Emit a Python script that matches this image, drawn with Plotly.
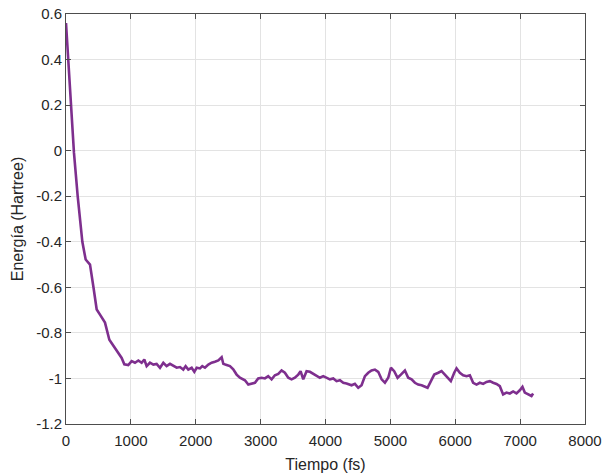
import plotly.graph_objects as go

t_fs = [0, 35, 88, 123, 180, 252, 303, 370, 421, 473, 524, 601, 668, 755, 858, 899,
        960, 1012, 1063, 1115, 1166, 1207, 1243, 1294, 1346, 1397, 1449, 1500, 1551, 1603, 1654,
        1706, 1757, 1808, 1844, 1885, 1937, 1978, 2014, 2065, 2101, 2142, 2194, 2245, 2296, 2348,
        2399, 2425, 2476, 2527, 2578, 2630, 2681, 2758, 2810, 2861, 2912, 2963, 3015, 3066, 3117,
        3169, 3220, 3272, 3323, 3374, 3426, 3477, 3528, 3580, 3616, 3657, 3708, 3760, 3811, 3863,
        3914, 3965, 4017, 4068, 4120, 4171, 4222, 4274, 4325, 4351, 4402, 4453, 4505, 4556, 4608,
        4659, 4710, 4762, 4813, 4865, 4916, 4967, 5008, 5059, 5111, 5162, 5224, 5275, 5327, 5378,
        5429, 5481, 5532, 5573, 5625, 5676, 5738, 5789, 5840, 5891, 5932, 5984, 6020, 6071, 6122,
        6174, 6225, 6276, 6328, 6379, 6430, 6482, 6533, 6584, 6636, 6687, 6738, 6790, 6841, 6892,
        6944, 6995, 7036, 7072, 7123, 7175, 7200]
energia = [0.56, 0.40, 0.195, -0.01, -0.2, -0.40, -0.478, -0.50, -0.595, -0.697, -0.72, -0.755,
           -0.83, -0.866, -0.91, -0.938,
           -0.941, -0.924, -0.931, -0.921, -0.931, -0.917, -0.946, -0.931, -0.939, -0.936, -0.953,
           -0.931, -0.946, -0.936, -0.946, -0.953, -0.95, -0.961, -0.946, -0.961, -0.953, -0.971,
           -0.953, -0.956, -0.946, -0.953, -0.939, -0.931, -0.927, -0.921, -0.907, -0.936, -0.941,
           -0.946, -0.96, -0.983, -0.997, -1.008, -1.027, -1.024, -1.019, -1.0, -0.997, -1.0,
           -0.99, -1.004, -0.986, -0.98, -0.965, -0.975, -0.997, -1.004, -0.997, -0.983, -0.968,
           -1.004, -0.968, -0.971, -0.979, -0.986, -0.997, -0.99, -0.997, -1.004, -1.0, -1.012,
           -1.008, -1.019, -1.022, -1.024, -1.03, -1.024, -1.041, -1.03, -0.99, -0.975, -0.965,
           -0.961, -0.971, -1.004, -1.019, -0.997, -0.953, -0.968, -0.997, -0.983, -0.965, -0.997,
           -1.004, -1.019, -1.027, -1.03, -1.038, -1.041, -1.012, -0.983, -0.975, -0.968, -0.983,
           -1.0, -1.012, -0.975, -0.956, -0.975, -0.986, -0.99, -0.986, -1.019, -1.027, -1.019,
           -1.024, -1.015, -1.012, -1.019, -1.024, -1.034, -1.07, -1.062, -1.066, -1.057, -1.066,
           -1.052, -1.037, -1.062, -1.07, -1.077, -1.066]

x_ticks = [0, 1000, 2000, 3000, 4000, 5000, 6000, 7000, 8000]
y_ticks = [-1.2, -1.0, -0.8, -0.6, -0.4, -0.2, 0.0, 0.2, 0.4, 0.6]
y_labels = ["-1.2", "-1", "-0.8", "-0.6", "-0.4", "-0.2", "0", "0.2", "0.4", "0.6"]

fig = go.Figure()
fig.add_trace(go.Scatter(x=t_fs, y=energia, mode="lines",
                         line=dict(color="#7E2F8E", width=2.6), showlegend=False))

axis_common = dict(showline=True, linecolor="#4d4d4d", linewidth=1, mirror="ticks",
                   ticks="inside", ticklen=5, tickcolor="#4d4d4d", automargin=False,
                   showgrid=True, gridcolor="#e3e3e3", gridwidth=1, zeroline=False,
                   tickfont=dict(family="Liberation Sans, Arial", size=15, color="#262626"))

fig.update_layout(
    width=604, height=475,
    margin=dict(l=66, r=19, t=14, b=51),
    paper_bgcolor="white", plot_bgcolor="white",
    xaxis=dict(range=[0, 8000], tickvals=x_ticks, ticktext=[str(v) for v in x_ticks],
               ticklabelstandoff=3,
               title=dict(text="Tiempo (fs)", standoff=10,
                          font=dict(family="Liberation Sans, Arial", size=16, color="#262626")),
               **axis_common),
    yaxis=dict(range=[-1.2, 0.6], tickvals=y_ticks, ticktext=y_labels,
               title=dict(text="Energía (Hartree)", standoff=8,
                          font=dict(family="Liberation Sans, Arial", size=16, color="#262626")),
               **axis_common),
)

fig.write_html("out.html")
